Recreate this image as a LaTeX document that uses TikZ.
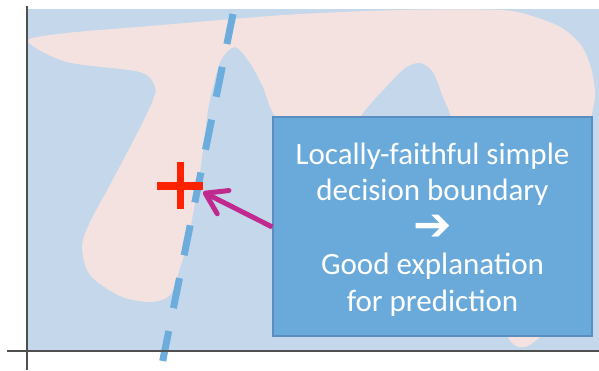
\documentclass[tikz,border=0pt]{standalone}
\usepackage{fontspec}
\setmainfont{Carlito}
\newfontfamily\dejavu{DejaVu Sans}
\usetikzlibrary{arrows.meta,calc}
\definecolor{bgblue}{HTML}{C5D8EB}
\definecolor{pinkc}{HTML}{F4E2E1}
\definecolor{boxblue}{HTML}{6AAADB}
\definecolor{boxedge}{HTML}{5A8EBE}
\definecolor{dashblue}{HTML}{6DADDD}
\definecolor{crossred}{HTML}{FF2200}
\definecolor{magc}{HTML}{C02A8E}
\definecolor{axisc}{HTML}{505050}
\tikzset{
  axisline/.style={draw=axisc, line width=1.8pt},
  dashline/.style={draw=dashblue, line width=7pt, dash pattern=on 30.6pt off 23.3pt},
  infobox/.style={draw=boxedge, fill=boxblue, line width=1.5pt, minimum width=319pt, minimum height=219pt, inner sep=0pt},
  txt/.style={anchor=base, text=white, font=\fontsize{31}{37}\selectfont, inner sep=0pt},
  magarrow/.style={draw=magc, line width=5pt, -{Straight Barb[length=20pt,width=26pt,round]}},
}
\begin{document}
\begin{tikzpicture}[x=1pt,y=-1pt]
\useasboundingbox (0,0) rectangle (599,370);
\fill[bgblue] (27,9) rectangle (599,351);
\fill[pinkc] plot[smooth cycle, tension=0.5] coordinates {
 (28,41) (67,33) (150,26) (233,19) (300,14) (400,10) (500,10) (535,17) (562,28) (581,45) (591,68) (595,95)
 (590,125) (580,200) (568,280) (550,325) (525,347) (507,335) (490,270) (470,190) (452,120) (443,97) (433,72)
 (420,63) (405,68) (385,88) (363,113) (340,150) (300,150) (273,113) (263,87) (250,63) (235,47) (221,60)
 (213,87) (208,110) (203,150) (198,185) (188,240) (180,268) (170,295) (150,302) (120,296) (90,275) (82,247)
 (90,222) (110,185) (140,128) (153,100) (155,87) (140,72) (67,62)};
\draw[dashline] (233,14) -- (162.5,362);
\coordinate (plus) at (180.5,186);
\fill[crossred] ($(plus)+(-23.5,-4)$) rectangle ($(plus)+(22.5,4)$);
\fill[crossred] ($(plus)+(-3.5,-24)$) rectangle ($(plus)+(3.5,23)$);
\coordinate (tip) at (203,192);
\node[infobox] (box) at (432.5,226.5) {};
\node[txt] (l1) at ($(box.north)+(0,48)$) {Locally-faithful simple};
\node[txt] (l2) at ($(l1.base)+(0,36)$) {decision boundary};
\node[txt, font=\fontsize{46}{46}\selectfont] (l3) at ($(l2.base)+(0,40)$) {\dejavu\bfseries ➔};
\node[txt] (l4) at ($(l2.base)+(0,74)$) {Good explanation};
\node[txt] (l5) at ($(l4.base)+(0,37.5)$) {for prediction};
\draw[magarrow] (box.west |- 0,227) -- (tip);
\draw[axisline] (27,6) -- (27,370);
\draw[axisline] (7,351) -- (599,351);
\end{tikzpicture}
\end{document}
